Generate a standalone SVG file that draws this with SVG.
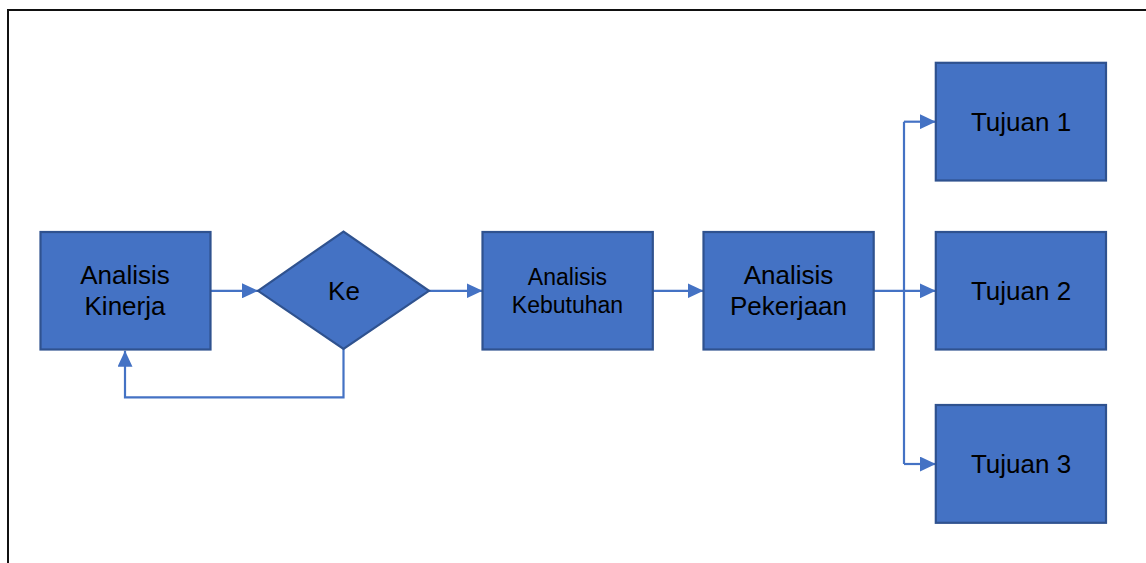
<svg xmlns="http://www.w3.org/2000/svg" width="1146" height="563" viewBox="0 0 1146 563">
<style>
.box{fill:#4472C4;stroke:#2F528F;stroke-width:2.2}
.t{font-family:"Liberation Sans",Arial,sans-serif;font-size:26px;fill:#000;text-anchor:middle}
.ts{font-family:"Liberation Sans",Arial,sans-serif;font-size:23px;fill:#000;text-anchor:middle}
.c{fill:none;stroke:#4472C4;stroke-width:2.2}
</style>
<defs>
<marker id="arr" viewBox="0 0 16 15" refX="16" refY="7.5" markerWidth="16" markerHeight="15" markerUnits="userSpaceOnUse" orient="auto">
<path d="M0,0 L16,7.5 L0,15 Z" fill="#4472C4"/>
</marker>
</defs>
<rect x="8" y="10" width="1150" height="560" fill="#fff" stroke="#111" stroke-width="2"/>
<g id="connectors">
<path class="c" d="M210.3,290.8 H258" marker-end="url(#arr)"/>
<path class="c" d="M429,290.8 H482.5" marker-end="url(#arr)"/>
<path class="c" d="M652.8,290.8 H703.5" marker-end="url(#arr)"/>
<path class="c" d="M873.7,290.8 H935.8" marker-end="url(#arr)"/>
<path class="c" d="M904,121.7 V464"/>
<path class="c" d="M904,121.7 H935.8" marker-end="url(#arr)"/>
<path class="c" d="M904,464 H935.8" marker-end="url(#arr)"/>
<path class="c" d="M343.5,349 V397.3 H125 V350.7" marker-end="url(#arr)"/>
</g>
<g id="kinerja">
<rect class="box" x="40.5" y="232" width="170" height="117.5"/>
<text class="t" x="125" y="284">Analisis</text>
<text class="t" x="125" y="315">Kinerja</text>
</g>
<g id="ke">
<polygon class="box" points="258,290.8 343.5,231.5 429,290.8 343.5,349"/>
<text class="t" x="344" y="300">Ke</text>
</g>
<g id="kebutuhan">
<rect class="box" x="482.5" y="232" width="170.3" height="117.5"/>
<text class="ts" x="567.5" y="285">Analisis</text>
<text class="ts" x="567.5" y="313">Kebutuhan</text>
</g>
<g id="pekerjaan">
<rect class="box" x="703.5" y="232" width="170.2" height="117.5"/>
<text class="t" x="788.5" y="284">Analisis</text>
<text class="t" x="788.5" y="315">Pekerjaan</text>
</g>
<g id="tujuan1">
<rect class="box" x="935.8" y="62.8" width="170.2" height="117.7"/>
<text class="t" x="1021" y="131">Tujuan 1</text>
</g>
<g id="tujuan2">
<rect class="box" x="935.8" y="232" width="170.2" height="117.5"/>
<text class="t" x="1021" y="300">Tujuan 2</text>
</g>
<g id="tujuan3">
<rect class="box" x="935.8" y="405" width="170.2" height="117.8"/>
<text class="t" x="1021" y="473">Tujuan 3</text>
</g>
</svg>
